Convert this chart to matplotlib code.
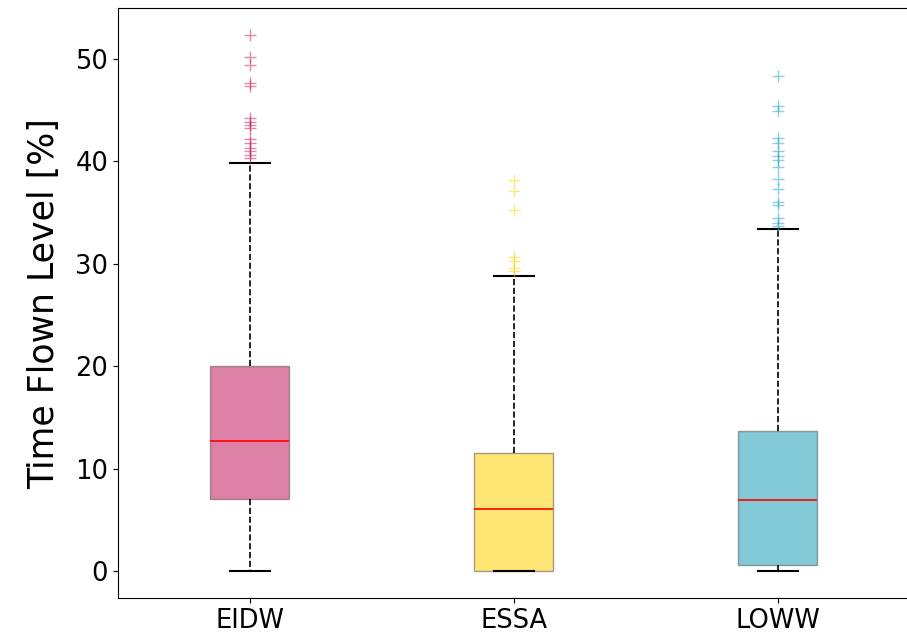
import matplotlib
matplotlib.use("Agg")
import matplotlib.pyplot as plt

airports = ["EIDW", "ESSA", "LOWW"]

q1 = [7.1, 0.0, 0.6]
median = [12.7, 6.1, 7.0]
q3 = [20.0, 11.5, 13.7]
whisker_lo = [0.0, 0.0, 0.0]
whisker_hi = [39.8, 28.8, 33.4]

outliers_eidw = [52.3, 50.2, 49.4, 47.6, 47.3, 44.2, 43.8, 43.5, 43.2,
                 42.2, 41.8, 41.3, 41.0, 40.6, 40.3]
outliers_essa = [38.2, 37.1, 35.2, 30.7, 30.3, 29.6, 29.3]
outliers_loww = [48.3, 45.4, 44.9, 42.3, 41.8, 41.0, 40.5, 40.1, 39.4,
                 38.3, 37.3, 36.0, 35.7, 34.5, 34.0, 33.7]
outliers = [outliers_eidw, outliers_essa, outliers_loww]

box_colors = ["#c2185b", "#ffd000", "#1ba0b8"]

stats = []
for i, name in enumerate(airports):
    stats.append({
        "label": name,
        "q1": q1[i],
        "med": median[i],
        "q3": q3[i],
        "whislo": whisker_lo[i],
        "whishi": whisker_hi[i],
        "fliers": outliers[i],
    })

fig = plt.figure(figsize=(9.07, 6.37), dpi=100)
ax = fig.add_axes([0.130, 0.061, 0.873, 0.926])

bp = ax.bxp(stats, widths=0.3, patch_artist=True,
            medianprops=dict(color="red", linewidth=1.2),
            whiskerprops=dict(color="black", linestyle="--", linewidth=1.2),
            capprops=dict(color="black", linewidth=1.5))

for patch, col in zip(bp["boxes"], box_colors):
    patch.set_facecolor(col)
    patch.set_alpha(0.55)
    patch.set_edgecolor("#555555")
for fl, col in zip(bp["fliers"], box_colors):
    fl.set_marker("+")
    fl.set_markeredgecolor(col)
    fl.set_markersize(9)
    fl.set_alpha(0.5)

ax.set_ylabel("Time Flown Level [%]", fontsize=25, labelpad=10)
ax.tick_params(labelsize=18.5)
ax.set_yticks([0, 10, 20, 30, 40, 50])

fig.savefig("out.png", dpi=100)
